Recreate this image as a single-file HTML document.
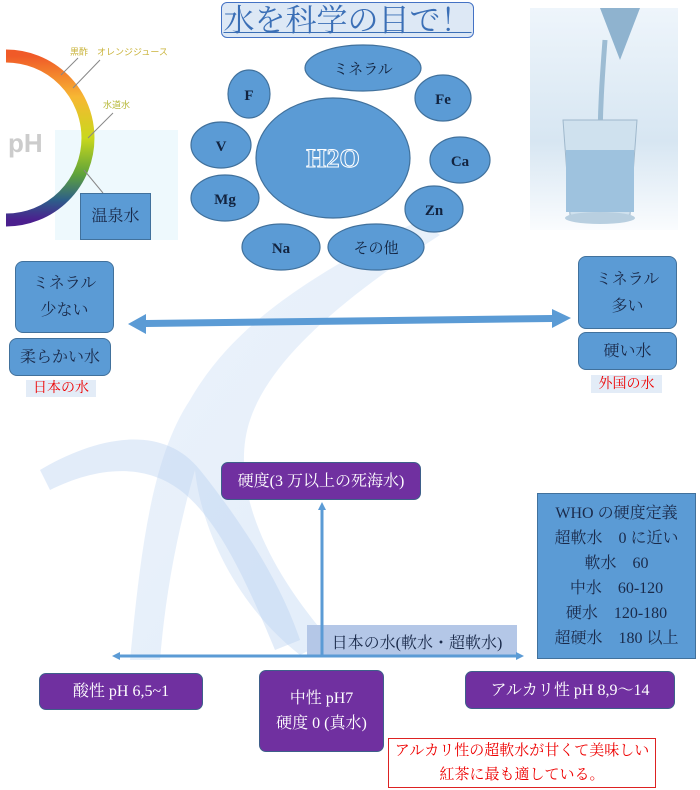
<!DOCTYPE html>
<html><head><meta charset="utf-8"><style>
*{margin:0;padding:0;box-sizing:border-box}
body{width:700px;height:790px;position:relative;background:#fff;font-family:"Liberation Serif","Noto Serif CJK SC","Noto Sans CJK JP",serif;overflow:hidden}
.a{position:absolute}
.bx{position:absolute;display:flex;align-items:center;justify-content:center;text-align:center;color:#1a2a4a;font-size:16px;line-height:27px}
.blue{background:#5b9bd5;border:1.5px solid #41719c;border-radius:8px}
.pur{background:#7030a0;border:1.5px solid #3e5f8a;border-radius:7px;color:#fff;font-size:16px}
</style></head><body>
<svg class="a" style="left:0;top:0" width="700" height="790">
<defs>
<linearGradient id="g1" x1="0" y1="0" x2="1" y2="1"><stop offset="0" stop-color="#d6e5f7"/><stop offset="1" stop-color="#bcd4f2"/></linearGradient>
<linearGradient id="ph" x1="0" y1="0" x2="0" y2="1"><stop offset="0" stop-color="#f05a28"/><stop offset="0.25" stop-color="#f7b733"/><stop offset="0.5" stop-color="#c9d81c"/><stop offset="0.72" stop-color="#5fa33a"/><stop offset="0.88" stop-color="#2d5e8a"/><stop offset="1" stop-color="#4b1f8e"/></linearGradient>
<linearGradient id="gl" x1="0" y1="0" x2="0" y2="1"><stop offset="0" stop-color="#eef5fb"/><stop offset="0.6" stop-color="#d7e6f2"/><stop offset="1" stop-color="#fafcfe"/></linearGradient>
</defs>
<!-- splash -->
<path d="M130 660 C140 560 150 460 190 400 C230 330 300 280 420 220 L440 235 C340 300 270 360 250 420 C230 480 260 560 330 640 L300 655 C230 600 200 520 195 470 C175 540 165 600 160 660 Z" fill="url(#g1)" opacity="0.45"/>
<path d="M40 470 C90 440 160 420 200 470 C240 520 280 580 300 640 L275 650 C250 590 220 520 180 490 C140 460 90 470 50 490 Z" fill="#b6cff1" opacity="0.4"/>
<!-- pH panel -->
<rect x="55" y="130" width="123" height="110" fill="#eef9fd"/>
<path d="M6 56 A82 82 0 0 1 6 220" stroke="url(#ph)" stroke-width="13" fill="none"/>
<text x="8" y="152" font-family="Liberation Sans" font-weight="bold" font-size="26" fill="#ccc">pH</text>
<line x1="61" y1="75" x2="78" y2="58" stroke="#888"/><line x1="73" y1="88" x2="100" y2="60" stroke="#888"/>
<line x1="88" y1="138" x2="113" y2="113" stroke="#888"/><line x1="84" y1="170" x2="103" y2="193" stroke="#888"/>
<text x="70" y="55" font-size="9" fill="#c9b33a" font-family="Liberation Sans,Noto Sans CJK JP,sans-serif">黒酢　オレンジジュース</text>
<text x="103" y="108" font-size="9" fill="#b7b93a" font-family="Liberation Sans,Noto Sans CJK JP,sans-serif">水道水</text>
<!-- glass -->
<rect x="530" y="8" width="148" height="222" fill="url(#gl)"/>
<path d="M600 8 L640 8 L620 60 Z" fill="#8fb3cf"/>
<path d="M605 40 C602 80 600 110 600 150" stroke="#9dbcd3" stroke-width="5" fill="none"/>
<path d="M563 120 L637 120 L630 215 L570 215 Z" fill="#cfe1ee" stroke="#9fb8cc"/>
<rect x="566" y="150" width="68" height="62" fill="#9ec2de"/>
<ellipse cx="600" cy="218" rx="35" ry="6" fill="#b8cfe0"/>
<!-- ellipses -->
<g fill="#5b9bd5" stroke="#41719c" stroke-width="1.2">
<ellipse cx="363" cy="68" rx="58" ry="23"/><ellipse cx="249" cy="94" rx="21" ry="24"/>
<ellipse cx="443" cy="98" rx="28" ry="23"/><ellipse cx="221" cy="145" rx="30" ry="23"/>
<ellipse cx="333" cy="158" rx="77" ry="60"/><ellipse cx="460" cy="160" rx="30" ry="23"/>
<ellipse cx="225" cy="198" rx="34" ry="23"/><ellipse cx="434" cy="209" rx="29" ry="23"/>
<ellipse cx="281" cy="247" rx="39" ry="23"/><ellipse cx="376" cy="247" rx="48" ry="23"/>
</g>
<g font-size="15" fill="#12233f" text-anchor="middle" font-weight="bold">
<text x="363" y="74" font-weight="normal">ミネラル</text><text x="249" y="100">F</text><text x="443" y="104">Fe</text>
<text x="221" y="151">V</text><text x="460" y="166">Ca</text><text x="225" y="204">Mg</text>
<text x="434" y="215">Zn</text><text x="281" y="253">Na</text><text x="376" y="253" font-weight="normal">その他</text>
</g>
<text x="333" y="167" text-anchor="middle" font-size="26" font-weight="bold" fill="#5b9bd5" stroke="#fff" stroke-width="1">H2O</text>
<!-- double arrow -->
<g fill="#5b9bd5">
<polygon points="128,324 146,314 146,320 552,315 552,309 571,318 552,328 552,322 146,327 146,334"/>
</g>
<!-- bottom arrows -->
<rect x="307" y="625" width="210" height="32" fill="#b4c7e7"/>
<g stroke="#5b9bd5" stroke-width="3" fill="#5b9bd5">
<line x1="116" y1="656" x2="520" y2="656"/><line x1="322" y1="656" x2="322" y2="508"/>
</g>
<g fill="#5b9bd5"><polygon points="112,656 120,652 120,660"/><polygon points="524,656 516,652 516,660"/><polygon points="322,502 318,510 326,510"/></g>
</svg>
<div class="bx" style="left:221px;top:2px;width:253px;height:36px;border:1.5px solid #4472c4;border-radius:6px;background:#dde8f5;color:#3b6fb6;font-size:31px;text-decoration:underline;text-decoration-thickness:1px">水を科学の目で！</div>
<div class="bx" style="left:80px;top:193px;width:71px;height:47px;background:#5b9bd5;border:1.5px solid #41719c;font-size:16px">温泉水</div>
<div class="bx blue" style="left:15px;top:261px;width:99px;height:72px">ミネラル<br>少ない</div>
<div class="bx blue" style="left:9px;top:338px;width:102px;height:38px">柔らかい水</div>
<div class="bx" style="left:26px;top:380px;width:70px;height:17px;background:#e3ecf7;color:#e00;font-size:14px">日本の水</div>
<div class="bx blue" style="left:578px;top:256px;width:99px;height:73px">ミネラル<br>多い</div>
<div class="bx blue" style="left:578px;top:332px;width:99px;height:38px">硬い水</div>
<div class="bx" style="left:591px;top:375px;width:71px;height:18px;background:#e3ecf7;color:#e00;font-size:14px">外国の水</div>
<div class="bx pur" style="left:221px;top:462px;width:200px;height:38px">硬度(3 万以上の死海水)</div>
<div class="bx" style="left:322px;top:630px;width:190px;height:26px;font-size:16px;color:#1a2a4a">日本の水(軟水・超軟水)</div>
<div class="bx" style="left:537px;top:493px;width:159px;height:166px;background:#5b9bd5;border:1.5px solid #41719c;font-size:16px;line-height:25px">WHO の硬度定義<br>超軟水　0 に近い<br>軟水　60<br>中水　60-120<br>硬水　120-180<br>超硬水　180 以上</div>
<div class="bx pur" style="left:39px;top:673px;width:164px;height:37px">酸性 pH 6,5~1</div>
<div class="bx pur" style="left:259px;top:670px;width:125px;height:82px;line-height:25px">中性 pH7<br>硬度 0 (真水)</div>
<div class="bx pur" style="left:465px;top:671px;width:210px;height:38px">アルカリ性 pH 8,9〜14</div>
<div class="bx" style="left:388px;top:738px;width:268px;height:50px;border:1.5px solid #d22;background:#fff;color:#e00;font-size:15px;line-height:24px">アルカリ性の超軟水が甘くて美味しい<br>紅茶に最も適している。</div>
</body></html>
